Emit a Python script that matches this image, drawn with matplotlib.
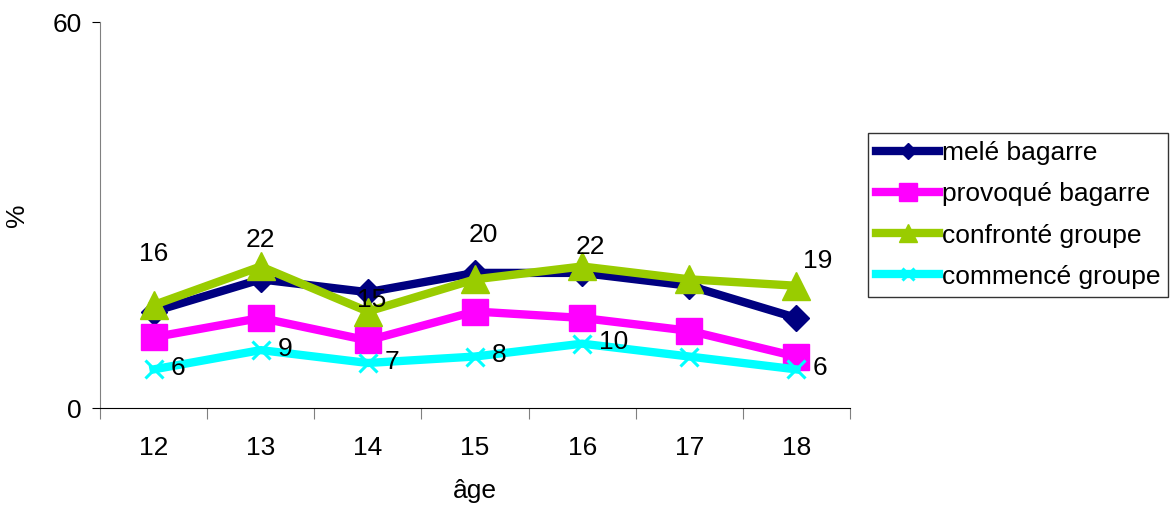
import numpy as np
import matplotlib.pyplot as plt
from matplotlib.ticker import FixedLocator, NullFormatter

plt.rcParams['font.family'] = ['Liberation Sans', 'DejaVu Sans']

ages = ['12', '13', '14', '15', '16', '17', '18']
mele = [15, 20, 18, 21, 21, 19, 14]
provoque = [11, 14, 10.5, 15, 14, 12, 8]
confronte = [16, 22, 15, 20, 22, 20, 19]
commence = [6, 9, 7, 8, 10, 8, 6]

# which points carry a value label
conf_lab = [0, 1, 2, 3, 4, 6]
comm_lab = [0, 1, 2, 3, 4, 6]

fig = plt.figure(figsize=(11.7, 5.13), dpi=100)
ax = fig.add_axes([100/1170, 105/513, 750/1170, 386/513])
x = np.arange(len(ages))

ax.plot(x, mele, color='#000080', lw=6, marker='D', ms=13, label='melé bagarre')
ax.plot(x, provoque, color='#FF00FF', lw=6, marker='s', ms=19, label='provoqué bagarre')
ax.plot(x, confronte, color='#99CC00', lw=6, marker='^', ms=20, label='confronté groupe')
ax.plot(x, commence, color='#00FFFF', lw=6, marker='x', ms=13, mew=2.2, label='commencé groupe')

# label offsets in points (centre of text relative to the point)
conf_off = [(0, 37), (0, 19), (3, 8), (6, 32), (6, 14), (0, 0), (15, 18)]
for i in conf_lab:
    dx, dy = conf_off[i]
    ax.annotate(str(confronte[i]), (x[i], confronte[i]), xytext=(dx, dy),
                textcoords='offset points', ha='center', va='center', fontsize=19)
for i in comm_lab:
    ax.annotate(str(commence[i]), (x[i], commence[i]), xytext=(12, 1),
                textcoords='offset points', ha='left', va='center', fontsize=19)

ax.set_xlim(-0.5, 6.5)
ax.set_ylim(0, 60)
ax.set_yticks([0, 60])
ax.xaxis.set_major_locator(FixedLocator(np.arange(-0.5, 7, 1)))
ax.xaxis.set_major_formatter(NullFormatter())
ax.xaxis.set_minor_locator(FixedLocator(x))
ax.set_xticklabels(ages, minor=True)
ax.tick_params(axis='x', which='major', length=8, color='#808080')
ax.tick_params(axis='x', which='minor', length=0, pad=20, labelsize=19)
ax.tick_params(axis='y', length=6, color='black', labelsize=19, pad=7)
for s in ['top', 'right']:
    ax.spines[s].set_visible(False)
ax.spines['left'].set_color('#808080')
ax.spines['bottom'].set_color('black')
ax.set_xlabel('âge', fontsize=19)
ax.xaxis.set_label_coords(0.5, -0.185)
ax.set_ylabel('%', fontsize=19)
ax.yaxis.set_label_coords(-0.095, 0.5)

leg = ax.legend(loc='center left', bbox_to_anchor=(1.024, 0.5), fontsize=19,
                frameon=True, fancybox=False, edgecolor='black', handlelength=2.4,
                handletextpad=0.1, borderpad=0.3, labelspacing=0.65, markerscale=0.65,
                borderaxespad=0)
leg.get_frame().set_linewidth(1)

fig.savefig('out.png', dpi=100)
